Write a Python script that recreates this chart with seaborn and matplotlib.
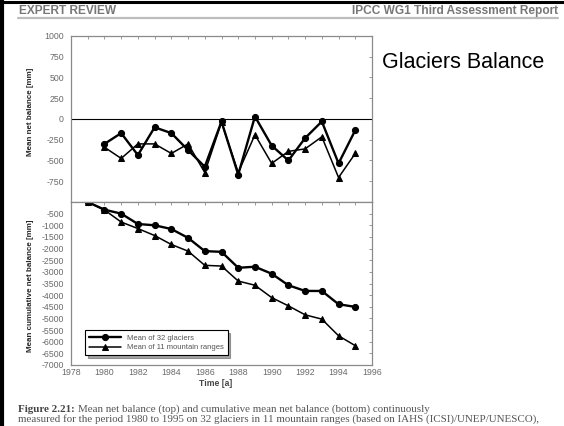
import matplotlib
matplotlib.use("Agg")
import matplotlib.pyplot as plt
from matplotlib.lines import Line2D
from matplotlib.ticker import MultipleLocator, FuncFormatter
import numpy as np
import pandas as pd
import seaborn as sns

# Annual mean net balance [mm], 1980-1995
years_annual = list(range(1980, 1996))
annual_32_glaciers = [-300, -170, -435, -100, -170, -375, -575, -30, -670, 30,
                      -320, -500, -230, -30, -535, -135]
annual_11_ranges = [-340, -475, -300, -300, -415, -300, -645, -40, -645, -190,
                    -535, -390, -360, -215, -705, -415]

# Cumulative mean net balance [mm], starting from 0 in 1979
years_cum = list(range(1979, 1996))
cum_32_glaciers = [0, -330, -500, -945, -1000, -1160, -1540, -2110, -2140, -2825,
                   -2780, -3080, -3575, -3820, -3820, -4390, -4505]
cum_11_ranges = [0, -340, -860, -1140, -1440, -1825, -2110, -2720, -2750, -3395,
                 -3575, -4105, -4460, -4845, -5030, -5745, -6170]

series_labels = ["Mean of 32 glaciers", "Mean of 11 mountain ranges"]
x_tick_labels = [str(y) for y in range(1978, 1997, 2)]

sns.set_style("white")
plt.rcParams["font.family"] = ["Liberation Sans", "DejaVu Sans"]

W, H = 564, 426
fig = plt.figure(figsize=(W / 100, H / 100), dpi=100)
fig.patch.set_facecolor("white")

ax_top = fig.add_axes([71 / W, 1 - 202 / H, 301 / W, 166 / H])
ax_bot = fig.add_axes([71 / W, 1 - 365 / H, 301 / W, 163 / H])

df_top = pd.DataFrame({"year": years_annual, "g": annual_32_glaciers, "r": annual_11_ranges})
df_bot = pd.DataFrame({"year": years_cum, "g": cum_32_glaciers, "r": cum_11_ranges})

for ax, df in ((ax_top, df_top), (ax_bot, df_bot)):
    sns.lineplot(data=df, x="year", y="g", ax=ax, color="black", linewidth=1.7,
                 marker="o", markersize=4.4, markeredgecolor="black",
                 label=series_labels[0])
    sns.lineplot(data=df, x="year", y="r", ax=ax, color="black", linewidth=1.1,
                 marker="^", markersize=4.4, markeredgecolor="black",
                 label=series_labels[1])

ax_top.axhline(0, color="black", linewidth=0.8, zorder=1)

ax_top.set_ylim(-1000, 1000)
ax_bot.set_ylim(-7000, 0)
for ax in (ax_top, ax_bot):
    ax.set_xlim(1978, 1996)
    ax.set_xlabel("")
    ax.set_ylabel("")
    for s in ax.spines.values():
        s.set_color("#8a8a8a")
        s.set_linewidth(0.9)
    ax.tick_params(which="both", direction="in", top=True, right=True,
                   color="#8a8a8a", width=0.6, labelsize=6.3, labelcolor="#6a6a6a")
    ax.tick_params(axis="y", pad=5.2)
    ax.tick_params(axis="x", pad=2.2)
    ax.tick_params(which="major", length=2.5)
    ax.tick_params(which="minor", length=1.8)

ax_top.yaxis.set_major_locator(MultipleLocator(250))
ax_top.yaxis.set_major_formatter(FuncFormatter(lambda v, p: "" if v <= -1000 else f"{v:.0f}"))
ax_top.xaxis.set_major_locator(MultipleLocator(1))
ax_top.tick_params(axis="x", labelbottom=False)
ax_top.get_legend().remove()

ax_bot.yaxis.set_major_locator(MultipleLocator(500))
ax_bot.yaxis.set_major_formatter(FuncFormatter(lambda v, p: "" if v >= 0 else f"{v:.0f}"))
ax_bot.set_xticks(list(range(1978, 1997, 2)))
ax_bot.set_xticklabels(x_tick_labels)
ax_bot.xaxis.set_minor_locator(MultipleLocator(1))

leg = ax_bot.legend(loc="lower left", bbox_to_anchor=(14 / 301, 10 / 163),
                    borderaxespad=0, fontsize=5.5, frameon=True, fancybox=False,
                    shadow=True, handlelength=4.2, borderpad=0.5, labelspacing=0.3,
                    edgecolor="black")
leg.get_frame().set_linewidth(0.8)
for t in leg.get_texts():
    t.set_color("#555555")

fig.text(30 / W, 1 - 112 / H, "Mean net balance [mm]", rotation=90,
         ha="center", va="center", fontsize=5.8, fontweight="bold")
fig.text(30 / W, 1 - 286 / H, "Mean cumulative net balance [mm]", rotation=90,
         ha="center", va="center", fontsize=5.8, fontweight="bold")
fig.text(216 / W, 1 - 383 / H, "Time [a]", ha="center", va="center",
         fontsize=6.2, fontweight="bold", color="#444444")

fig.text(382 / W, 1 - 63 / H, "Glaciers Balance", ha="left", va="center",
         fontsize=15.5, color="black")

# Page header
fig.text(19 / W, 1 - 11 / H, "EXPERT REVIEW", ha="left", va="center",
         fontsize=8.6, fontweight="bold", color="#777777")
fig.text(558 / W, 1 - 11 / H, "IPCC WG1 Third Assessment Report", ha="right",
         va="center", fontsize=8.6, fontweight="bold", color="#777777")
fig.add_artist(Line2D([18 / W, 558 / W], [1 - 17.5 / H, 1 - 17.5 / H],
                      color="#bdbdbd", linewidth=1.6, transform=fig.transFigure))

# Page border
fig.add_artist(Line2D([0, 1], [1 - 1.5 / H, 1 - 1.5 / H], color="black",
                      linewidth=2.2, transform=fig.transFigure))
fig.add_artist(Line2D([2 / W, 2 / W], [0, 1], color="black", linewidth=3,
                      transform=fig.transFigure))

# Caption: bold figure number followed by the regular-weight description
serif = ["Liberation Serif", "DejaVu Serif"]
cap_num = fig.text(18 / W, 1 - 409 / H, "Figure 2.21:", ha="left", va="center",
                   fontsize=7.9, fontweight="bold", family=serif, color="#444444")
fig.canvas.draw()
bb = cap_num.get_window_extent(renderer=fig.canvas.get_renderer())
fig.text((bb.x1 + 3) / W, 1 - 409 / H,
         "Mean net balance (top) and cumulative mean net balance (bottom) continuously",
         ha="left", va="center", fontsize=7.9, family=serif, color="#555555")
fig.text(18 / W, 1 - 419.5 / H,
         "measured for the period 1980 to 1995 on 32 glaciers in 11 mountain ranges "
         "(based on IAHS (ICSI)/UNEP/UNESCO),",
         ha="left", va="center", fontsize=7.9, family=serif, color="#555555")

fig.savefig("out.png", dpi=100, facecolor="white")
